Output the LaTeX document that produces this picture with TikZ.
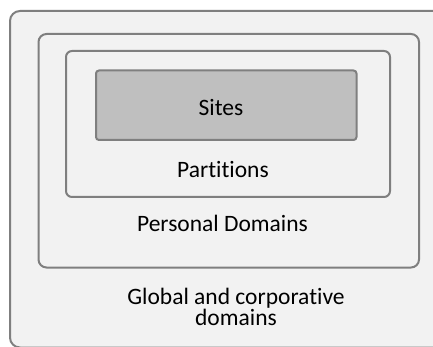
\documentclass[tikz,border=0pt]{standalone}
\usepackage{fontspec}
\setmainfont{Carlito}[Ligatures={NoCommon}]
\usepackage{tikz}
\definecolor{boxgray}{HTML}{F2F2F2}
\definecolor{sitegray}{HTML}{BFBFBF}
\definecolor{edgegray}{HTML}{7F7F7F}
\tikzset{
  level/.style={fill=boxgray, draw=edgegray, line width=2pt},
  lbl/.style={font=\fontsize{23.5}{21.5}\selectfont, align=center, anchor=base}
}

\begin{document}
\begin{tikzpicture}[x=1pt, y=-1pt]
      \clip (0,0) rectangle (433,347);
      \fill[white] (0,0) rectangle (433,347);
      \filldraw[level, rounded corners=10pt] (10,11) rectangle (450,347.5);
      \filldraw[level, rounded corners=8pt] (38.5,34) rectangle (419,267.5);
      \filldraw[level, rounded corners=6pt] (66,51) rectangle (390,197);
      \filldraw[level, fill=sitegray, rounded corners=3pt] (96,70.5) rectangle (356.5,140);
      \node[lbl] (sites) at (221,116) {Sites};
      \node[lbl] (partitions) at (223,178) {Partitions};
      \node[lbl] (personal) at (222.5,231) {Personal Domains};
      \node[lbl] (global) at (236,325.5) {Global and corporative\\domains};
    \end{tikzpicture}
\end{document}
